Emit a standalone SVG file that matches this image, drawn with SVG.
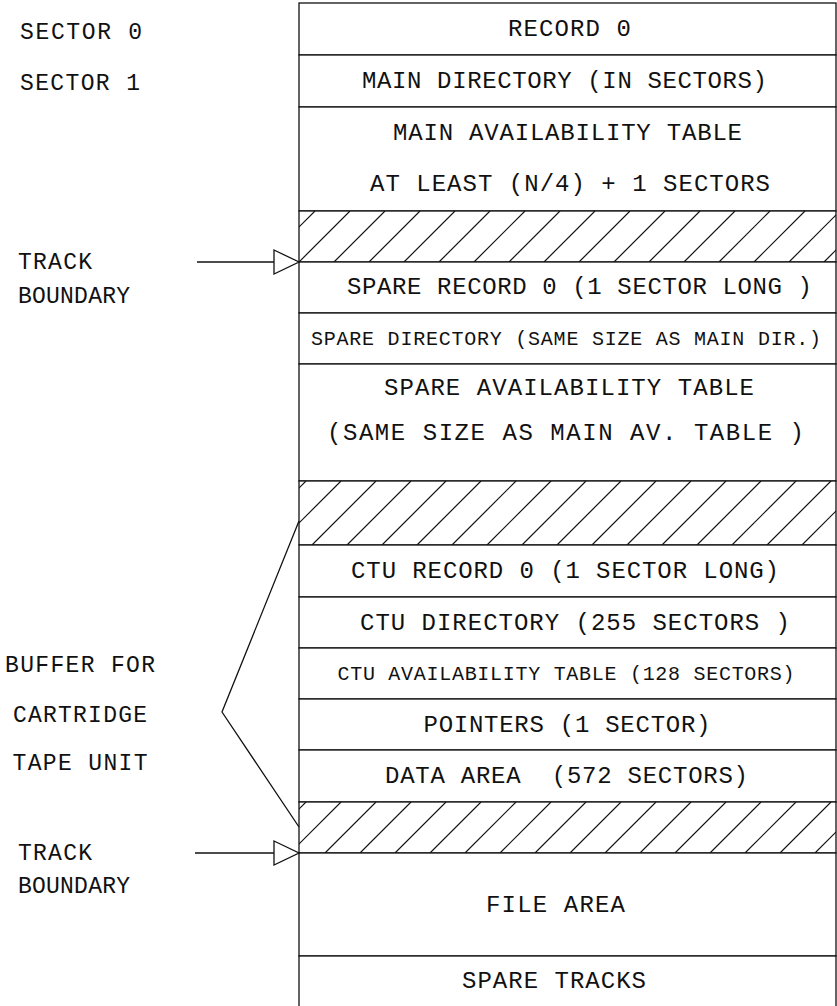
<svg xmlns="http://www.w3.org/2000/svg" width="837" height="1006" viewBox="0 0 837 1006">
<style>
.box{fill:#fff;stroke:#111;stroke-width:1.3}
.t{font-family:"Liberation Mono","DejaVu Sans Mono",monospace;font-size:24px;fill:#111;text-anchor:middle;white-space:pre}
.s{font-size:20px}
.l{font-family:"Liberation Mono","DejaVu Sans Mono",monospace;font-size:23px;fill:#111;white-space:pre}
.m{text-anchor:middle}
.hatch{stroke:#111;stroke-width:1.2;fill:none}
.conn{stroke:#111;stroke-width:1.3;fill:none}
.head{fill:#fff;stroke:#111;stroke-width:1.3;stroke-linejoin:miter}
</style>
<defs>
<clipPath id="c1"><rect x="299" y="211" width="537" height="51"/></clipPath>
<clipPath id="c2"><rect x="299" y="481" width="537" height="64"/></clipPath>
<clipPath id="c3"><rect x="299" y="802" width="537" height="51"/></clipPath>
</defs>
<rect width="837" height="1006" fill="#fff"/>

<g id="labels-left">
<text class="l" x="20" y="39" textLength="122">SECTOR 0</text>
<text class="l" x="20" y="90" textLength="120">SECTOR 1</text>
<text class="l" x="18" y="269" textLength="74">TRACK</text>
<text class="l" x="18" y="303" textLength="112">BOUNDARY</text>
<text class="l m" x="80" y="672" textLength="150">BUFFER FOR</text>
<text class="l m" x="80" y="722" textLength="134">CARTRIDGE</text>
<text class="l m" x="80" y="770" textLength="135">TAPE UNIT</text>
<text class="l" x="18" y="860" textLength="74">TRACK</text>
<text class="l" x="18" y="893" textLength="112">BOUNDARY</text>
</g>

<g id="record0"><rect class="box" x="299" y="3" width="537" height="52"/><text class="t" x="569.5" y="36" textLength="123">RECORD 0</text></g>
<g id="main-directory"><rect class="box" x="299" y="55" width="537" height="52"/><text class="t" x="564.5" y="88" textLength="405">MAIN DIRECTORY (IN SECTORS)</text></g>
<g id="main-availability"><rect class="box" x="299" y="107" width="537" height="104"/><text class="t" x="567.5" y="140" textLength="349">MAIN AVAILABILITY TABLE</text><text class="t" x="570" y="191" textLength="400">AT LEAST (N/4) + 1 SECTORS</text></g>
<g id="hatch1"><rect class="box" x="299" y="211" width="537" height="51"/>
<path class="hatch" clip-path="url(#c1)" d="M264,262l51,-51M299,262l51,-51M334,262l51,-51M369,262l51,-51M404,262l51,-51M439,262l51,-51M474,262l51,-51M509,262l51,-51M544,262l51,-51M579,262l51,-51M614,262l51,-51M649,262l51,-51M684,262l51,-51M719,262l51,-51M754,262l51,-51M789,262l51,-51M824,262l51,-51"/></g>
<g id="spare-record0"><rect class="box" x="299" y="262" width="537" height="51"/><text class="t" x="579.5" y="294" textLength="465">SPARE RECORD 0 (1 SECTOR LONG )</text></g>
<g id="spare-directory"><rect class="box" x="299" y="313" width="537" height="51"/><text class="t s" x="566" y="345" textLength="510">SPARE DIRECTORY (SAME SIZE AS MAIN DIR.)</text></g>
<g id="spare-availability"><rect class="box" x="299" y="364" width="537" height="117"/><text class="t" x="569" y="395" textLength="370">SPARE AVAILABILITY TABLE</text><text class="t" x="565.5" y="440" textLength="477">(SAME SIZE AS MAIN AV. TABLE )</text></g>
<g id="hatch2"><rect class="box" x="299" y="481" width="537" height="64"/>
<path class="hatch" clip-path="url(#c2)" d="M242,545l64,-64M277,545l64,-64M312,545l64,-64M347,545l64,-64M382,545l64,-64M417,545l64,-64M452,545l64,-64M487,545l64,-64M522,545l64,-64M557,545l64,-64M592,545l64,-64M627,545l64,-64M662,545l64,-64M697,545l64,-64M732,545l64,-64M767,545l64,-64M802,545l64,-64"/></g>
<g id="ctu-record0"><rect class="box" x="299" y="545" width="537" height="52"/><text class="t" x="565" y="578" textLength="428">CTU RECORD 0 (1 SECTOR LONG)</text></g>
<g id="ctu-directory"><rect class="box" x="299" y="597" width="537" height="51"/><text class="t" x="575" y="630" textLength="430">CTU DIRECTORY (255 SECTORS )</text></g>
<g id="ctu-availability"><rect class="box" x="299" y="648" width="537" height="51"/><text class="t s" x="566" y="680" textLength="457">CTU AVAILABILITY TABLE (128 SECTORS)</text></g>
<g id="pointers"><rect class="box" x="299" y="699" width="537" height="51"/><text class="t" x="567" y="732" textLength="287">POINTERS (1 SECTOR)</text></g>
<g id="data-area"><rect class="box" x="299" y="750" width="537" height="52"/><text class="t" x="566.5" y="783" textLength="363">DATA AREA  (572 SECTORS)</text></g>
<g id="hatch3"><rect class="box" x="299" y="802" width="537" height="51"/>
<path class="hatch" clip-path="url(#c3)" d="M255,853l51,-51M290,853l51,-51M325,853l51,-51M360,853l51,-51M395,853l51,-51M430,853l51,-51M465,853l51,-51M500,853l51,-51M535,853l51,-51M570,853l51,-51M605,853l51,-51M640,853l51,-51M675,853l51,-51M710,853l51,-51M745,853l51,-51M780,853l51,-51M815,853l51,-51"/></g>
<g id="file-area"><rect class="box" x="299" y="853" width="537" height="103"/><text class="t" x="555.5" y="912" textLength="139">FILE AREA</text></g>
<g id="spare-tracks"><rect class="box" x="299" y="956" width="537" height="60"/><text class="t" x="554" y="988" textLength="184">SPARE TRACKS</text></g>

<g id="connectors">
<line class="conn" x1="197" y1="262" x2="274" y2="262"/>
<polygon class="head" points="274,250 299,262 274,274"/>
<line class="conn" x1="195" y1="853" x2="274" y2="853"/>
<polygon class="head" points="274,841 299,853 274,865"/>
<polyline class="conn" points="299,521 222,712 299,827"/>
</g>
</svg>
